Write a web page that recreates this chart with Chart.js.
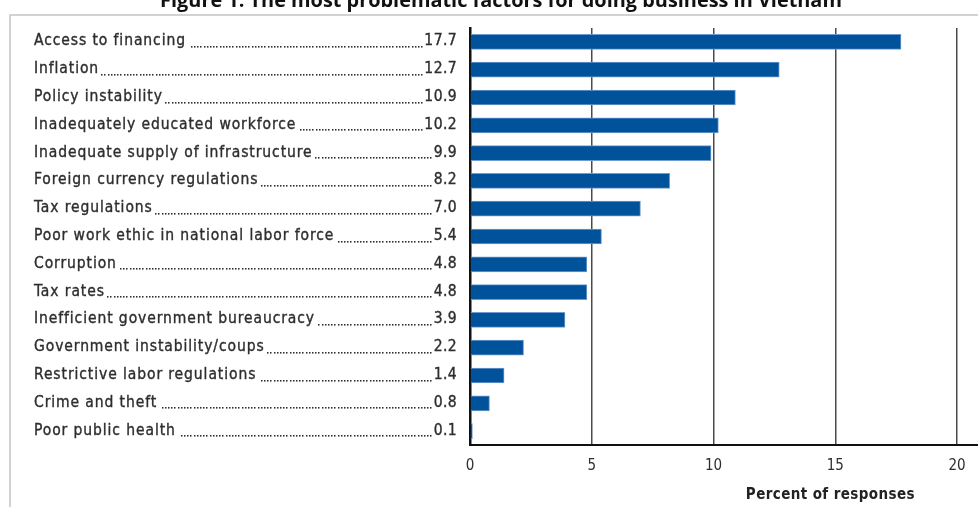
<!DOCTYPE html>
<html>
<head>
<meta charset="utf-8">
<script src="https://cdn.jsdelivr.net/npm/chart.js@4.4.1/dist/chart.umd.min.js"></script>
<style>
  html, body { margin: 0; padding: 0; background: #fff; }
  #wrap { width: 978px; height: 507px; position: relative; }
</style>
</head>
<body>
<div id="wrap"><canvas id="factors-chart" width="978" height="507"></canvas></div>
<script>
'use strict';

var factors = [
    "Access to financing",
    "Inflation",
    "Policy instability",
    "Inadequately educated workforce",
    "Inadequate supply of infrastructure",
    "Foreign currency regulations",
    "Tax regulations",
    "Poor work ethic in national labor force",
    "Corruption",
    "Tax rates",
    "Inefficient government bureaucracy",
    "Government instability/coups",
    "Restrictive labor regulations",
    "Crime and theft",
    "Poor public health"
];
var responses = [17.7, 12.7, 10.9, 10.2, 9.9, 8.2, 7.0, 5.4, 4.8, 4.8, 3.9, 2.2, 1.4, 0.8, 0.1];
var xTicks = [0, 5, 10, 15, 20];

var figureTitle = "Figure 1: The most problematic factors for doing business in Vietnam";
var axisTitle = "Percent of responses";

var condensed = "'DejaVu Sans Condensed', 'Liberation Sans Narrow', sans-serif";
var labelFont = "15.5px " + condensed;
var textColor = "#2e2e2e";

function eachItem(arr, fn) {
    for (var i = 0; i < arr.length; i++) fn(i, arr[i]);
}

// slightly heavier text than the plain glyphs
function heavyText(ctx, text, x, y) {
    ctx.fillText(text, x, y);
    ctx.strokeText(text, x, y);
}

// frame, figure title, row labels with dotted leaders, axis title
var decorations = {
    id: 'decorations',
    beforeDraw: function(chart) {
        var ctx = chart.ctx;
        ctx.save();
        ctx.fillStyle = '#fff';
        ctx.fillRect(0, 0, chart.width, chart.height);
        ctx.strokeStyle = '#c4c4c4';
        ctx.lineWidth = 1.5;
        ctx.beginPath();
        ctx.moveTo(10, chart.height);
        ctx.lineTo(10, 15);
        ctx.lineTo(chart.width, 15);
        ctx.stroke();

        // title is clipped by the top of the page, sized to span 160..842
        ctx.font = "bold 20px 'Open Sans', sans-serif";
        var w = ctx.measureText(figureTitle).width;
        var size = 20 * 682 / w;
        ctx.font = "bold " + size.toFixed(1) + "px 'Open Sans', sans-serif";
        ctx.fillStyle = '#111';
        ctx.textAlign = 'center';
        ctx.textBaseline = 'alphabetic';
        ctx.fillText(figureTitle, 501, 7);
        ctx.restore();
    },
    afterDraw: function(chart) {
        var ctx = chart.ctx;
        var yScale = chart.scales.y;
        var xScale = chart.scales.x;
        ctx.save();
        ctx.font = labelFont;
        ctx.fillStyle = textColor;
        ctx.strokeStyle = textColor;
        ctx.lineWidth = 0.35;
        ctx.textBaseline = 'middle';
        var left = 34, right = 457;
        eachItem(factors, function(i, name) {
            var y = yScale.getPixelForValue(i) - 0.5;
            var val = responses[i].toFixed(1);
            ctx.letterSpacing = '0.9px';
            ctx.textAlign = 'left';
            heavyText(ctx, name, left, y);
            var start = left + ctx.measureText(name).width + 2;
            ctx.letterSpacing = '0.4px';
            ctx.textAlign = 'right';
            heavyText(ctx, val, right, y);
            var end = right - ctx.measureText(val).width;
            // leader dots
            var dotW = 3.2;
            var n = Math.floor((end - start) / dotW);
            for (var k = 0; k < n; k++) {
                var dx = Math.round(end - (k + 1) * dotW);
                ctx.fillRect(dx, Math.round(y + 4.5), 1.5, 1.6);
            }
        });

        // bottom axis line runs on to the right edge
        ctx.strokeStyle = '#111';
        ctx.lineWidth = 2;
        ctx.beginPath();
        ctx.moveTo(xScale.right, chart.chartArea.bottom);
        ctx.lineTo(chart.width, chart.chartArea.bottom);
        ctx.stroke();

        ctx.font = "bold 15px " + condensed;
        ctx.letterSpacing = '0.4px';
        ctx.fillStyle = '#222';
        ctx.textAlign = 'center';
        ctx.fillText(axisTitle, xScale.getPixelForValue(14.8), 495);
        ctx.restore();
    }
};

var ctx = document.getElementById('factors-chart').getContext('2d');
var factorsChart = new Chart(ctx, {
    type: 'bar',
    data: {
        labels: factors,
        datasets: [
            {
                data: responses,
                backgroundColor: '#00529b',
                borderColor: '#6f9bd0',
                borderWidth: 1,
                borderSkipped: 'start',
                barThickness: 15
            }
        ]
    },
    options: {
        indexAxis: 'y',
        responsive: false,
        animation: false,
        events: [],
        layout: { padding: { top: 28, right: 21, left: 0, bottom: 0 } },
        plugins: {
            legend: { display: false },
            tooltip: { enabled: false },
            title: { display: false }
        },
        scales: {
            x: {
                min: xTicks[0],
                max: xTicks[xTicks.length - 1],
                afterBuildTicks: function(scale) {
                    scale.ticks = xTicks.map(function(v) { return { value: v }; });
                },
                afterFit: function(scale) { scale.height = 62; },
                grid: {
                    color: '#4a4a4a',
                    lineWidth: 1.5,
                    drawTicks: false
                },
                border: { color: '#111', width: 2 },
                ticks: {
                    padding: 12,
                    color: textColor,
                    font: { family: condensed, size: 15 }
                }
            },
            y: {
                afterFit: function(scale) { scale.width = 470; },
                grid: { display: false },
                border: { color: '#111', width: 2.5 },
                ticks: { display: false }
            }
        }
    },
    plugins: [decorations]
});
</script>
</body>
</html>
